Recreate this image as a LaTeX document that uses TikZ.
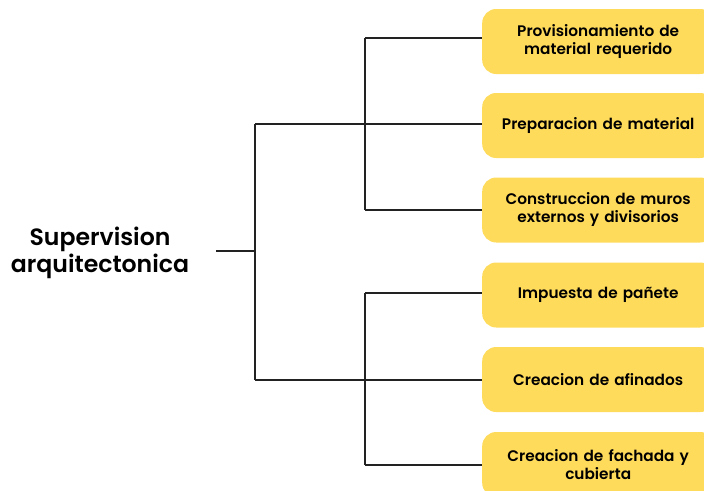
\documentclass[tikz,border=0pt]{standalone}
\usepackage{fontspec}
\setmainfont{Poppins}
\newfontfamily\poppinsSB{Poppins SemiBold}
\definecolor{boxyellow}{HTML}{FFDB5C}
\definecolor{linegray}{HTML}{222222}
\tikzset{
  px/.style={x=1pt,y=-1pt},
  taskbox/.style={fill=boxyellow, rounded corners=14pt, minimum width=232pt, minimum height=65pt, anchor=west, align=center, font=\poppinsSB\fontsize{15.3}{18}\selectfont, text width=220pt, inner sep=0pt},
  conn/.style={draw=linegray, line width=1.3pt},
}
\begin{document}
\begin{tikzpicture}[px]
\useasboundingbox (0,0) rectangle (704,490);
% boxes
\node[taskbox] (b1) at (482,41.5) {Provisionamiento de\\material requerido};
\node[taskbox] (b2) at (482,125.5) {Preparacion de material};
\node[taskbox] (b3) at (482,210) {Construccion de muros\\externos y divisorios};
\node[taskbox] (b4) at (482,295) {Impuesta de pañete};
\node[taskbox] (b5) at (482,379.5) {Creacion de afinados};
\node[taskbox] (b6) at (482,464.5) {Creacion de fachada y\\cubierta};
% root
\node[align=center, font=\poppinsSB\fontsize{23.6}{27.5}\selectfont, inner sep=0pt] (root) at (100,253) {Supervision\\arquitectonica};
% junctions
\coordinate (r0) at (216,251);
\coordinate (j0) at (255,251);
\coordinate (jt) at (255,124);
\coordinate (jb) at (255,380);
\coordinate (vt1) at (365,38);
\coordinate (vt3) at (365,210);
\coordinate (vb1) at (365,293);
\coordinate (vb3) at (365,465);
\draw[conn] (r0) -- (j0);
\draw[conn] (jt) -- (jb);
\draw[conn] (jt) -- (jt -| b2.west);
\draw[conn] (jb) -- (jb -| b5.west);
\draw[conn] (vt1) -- (vt3);
\draw[conn] (vb1) -- (vb3);
\draw[conn] (vt1) -- (vt1 -| b1.west);
\draw[conn] (vt3) -- (vt3 -| b3.west);
\draw[conn] (vb1) -- (vb1 -| b4.west);
\draw[conn] (vb3) -- (vb3 -| b6.west);
\end{tikzpicture}
\end{document}
